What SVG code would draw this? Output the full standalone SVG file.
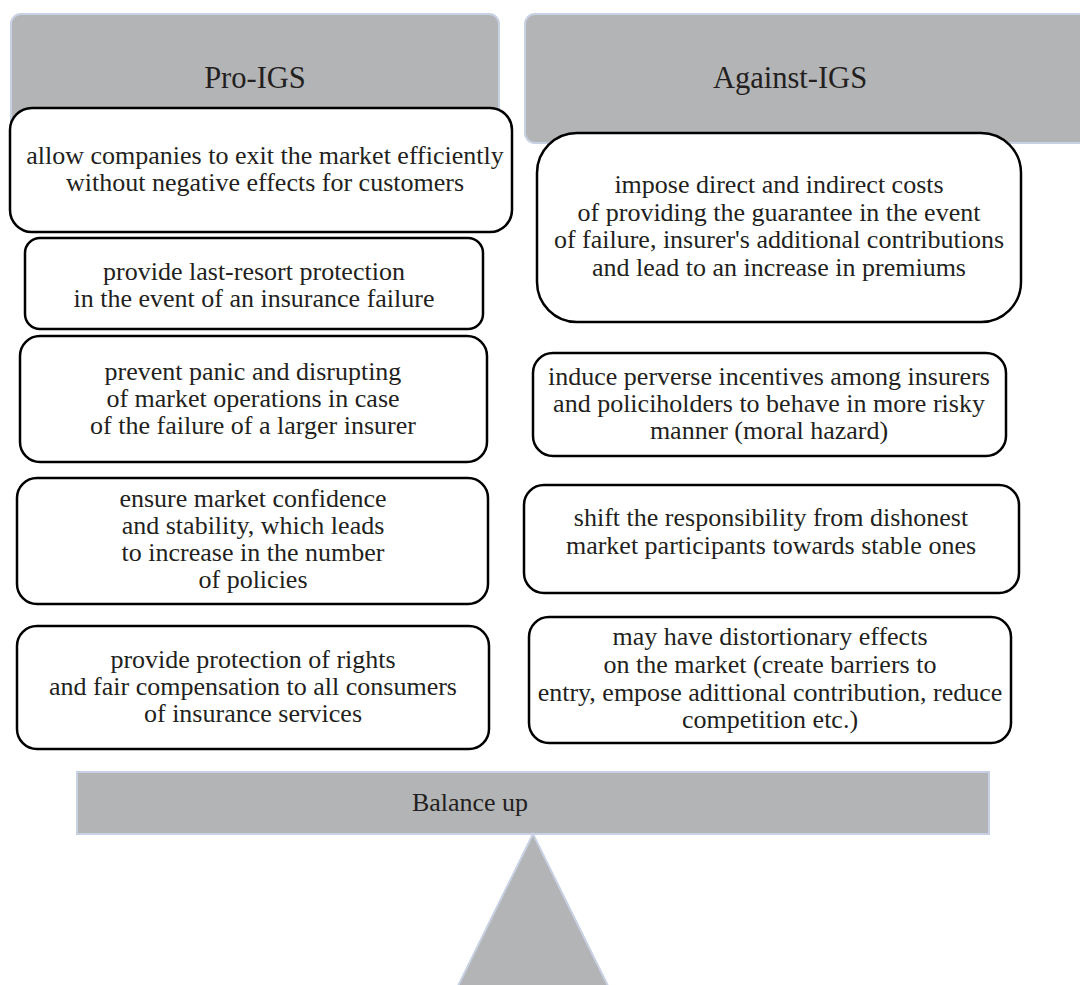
<svg xmlns="http://www.w3.org/2000/svg" width="1080" height="985" viewBox="0 0 1080 985">
<style>
.hdr{fill:#b3b4b6;stroke:#c8d0e3;stroke-width:2}
.box{fill:#ffffff;stroke:#000000;stroke-width:2.5}
.t{font-family:"Liberation Serif","Times New Roman",serif;font-size:26px;fill:#231f20;text-anchor:middle}
.h{font-family:"Liberation Serif","Times New Roman",serif;font-size:30.5px;fill:#231f20;text-anchor:middle}
</style>
<rect width="1080" height="985" fill="#ffffff"/>
<g id="header-pro">
<rect class="hdr" x="11" y="14" width="488" height="129" rx="10"/>
<text class="h" x="255" y="88">Pro-IGS</text>
</g>
<g id="header-against">
<rect class="hdr" x="525" y="14" width="570" height="129" rx="10"/>
<text class="h" x="790" y="88">Against-IGS</text>
</g>
<g id="pro1">
<rect class="box" x="10" y="108" width="502" height="124" rx="22"/>
<text class="t" x="265" y="164">allow companies to exit the market efficiently</text>
<text class="t" x="265" y="191">without negative effects for customers</text>
</g>
<g id="pro2">
<rect class="box" x="25" y="238" width="458" height="91" rx="15"/>
<text class="t" x="254" y="280">provide last-resort protection</text>
<text class="t" x="254" y="307">in the event of an insurance failure</text>
</g>
<g id="pro3">
<rect class="box" x="20" y="336" width="467" height="126" rx="20"/>
<text class="t" x="253" y="380">prevent panic and disrupting</text>
<text class="t" x="253" y="407">of market operations in case</text>
<text class="t" x="253" y="434">of the failure of a larger insurer</text>
</g>
<g id="pro4">
<rect class="box" x="17" y="478" width="471" height="126" rx="20"/>
<text class="t" x="253" y="507">ensure market confidence</text>
<text class="t" x="253" y="534">and stability, which leads</text>
<text class="t" x="253" y="561">to increase in the number</text>
<text class="t" x="253" y="588">of policies</text>
</g>
<g id="pro5">
<rect class="box" x="17" y="626" width="472" height="123" rx="20"/>
<text class="t" x="253" y="668">provide protection of rights</text>
<text class="t" x="253" y="695">and fair compensation to all consumers</text>
<text class="t" x="253" y="722">of insurance services</text>
</g>
<g id="against1">
<rect class="box" x="537" y="133" width="484" height="189" rx="40"/>
<text class="t" x="779" y="193">impose direct and indirect costs</text>
<text class="t" x="779" y="221">of providing the guarantee in the event</text>
<text class="t" x="779" y="248">of failure, insurer's additional contributions</text>
<text class="t" x="779" y="276">and lead to an increase in premiums</text>
</g>
<g id="against2">
<rect class="box" x="533" y="353" width="473" height="103" rx="20"/>
<text class="t" x="769" y="385">induce perverse incentives among insurers</text>
<text class="t" x="769" y="412">and policiholders to behave in more risky</text>
<text class="t" x="769" y="439">manner (moral hazard)</text>
</g>
<g id="against3">
<rect class="box" x="524" y="485" width="495" height="108" rx="20"/>
<text class="t" x="771" y="526">shift the responsibility from dishonest</text>
<text class="t" x="771" y="554">market participants towards stable ones</text>
</g>
<g id="against4">
<rect class="box" x="529" y="617" width="482" height="126" rx="20"/>
<text class="t" x="770" y="645">may have distortionary effects</text>
<text class="t" x="770" y="673">on the market (create barriers to</text>
<text class="t" x="770" y="701">entry, empose adittional contribution, reduce</text>
<text class="t" x="770" y="728">competition etc.)</text>
</g>
<g id="balance">
<rect class="hdr" x="77" y="772" width="912" height="62"/>
<text class="t" x="470" y="811">Balance up</text>
</g>
<g id="fulcrum">
<polygon class="hdr" points="533,834 456,990 610,990"/>
</g>
<g id="connectors"></g>
</svg>
